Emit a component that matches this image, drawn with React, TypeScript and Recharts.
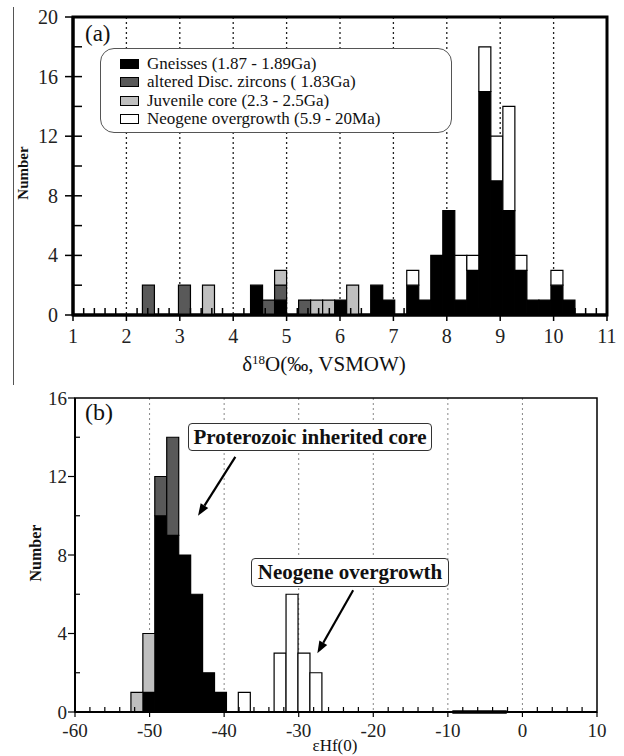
import React from 'react';
import { BarChart, Bar, XAxis, YAxis, CartesianGrid, ReferenceArea, ReferenceLine, Legend } from 'recharts';

const FONT = "'Liberation Serif', 'Times New Roman', Times, serif";

// ---------- Panel (a): delta18O histogram (bin width 0.225) ----------
const binCentersA = [
  2.4125, 2.6375, 2.8625, 3.0875, 3.3125, 3.5375, 3.7625, 3.9875, 4.2125, 4.4375,
  4.6625, 4.8875, 5.1125, 5.3375, 5.5625, 5.7875, 6.0125, 6.2375, 6.4625, 6.6875,
  6.9125, 7.1375, 7.3625, 7.5875, 7.8125, 8.0375, 8.2625, 8.4875, 8.7125, 8.9375,
  9.1625, 9.3875, 9.6125, 9.8375, 10.0625, 10.2875,
];
const gneissA = [0, 0, 0, 0, 0, 0, 0, 0, 0, 2, 0, 1, 0, 0, 0, 0, 1, 0, 0, 2, 1, 0, 2, 1, 4, 7, 1, 3, 15, 9, 7, 3, 1, 1, 2, 1];
const alteredA = [2, 0, 0, 2, 0, 0, 0, 0, 0, 0, 1, 1, 0, 1, 0, 0, 0, 0, 0, 0, 0, 0, 0, 0, 0, 0, 0, 0, 0, 0, 0, 0, 0, 0, 0, 0];
const juvenileA = [0, 0, 0, 0, 0, 2, 0, 0, 0, 0, 0, 1, 0, 0, 1, 1, 0, 2, 0, 0, 0, 0, 0, 0, 0, 0, 0, 0, 0, 0, 0, 0, 0, 0, 0, 0];
const neogeneA = [0, 0, 0, 0, 0, 0, 0, 0, 0, 0, 0, 0, 0, 0, 0, 0, 0, 0, 0, 0, 0, 0, 1, 0, 0, 0, 3, 1, 3, 3, 7, 1, 0, 0, 1, 0];

const seriesNames = [
  'Gneisses (1.87 - 1.89Ga)',
  'altered Disc. zircons ( 1.83Ga)',
  'Juvenile core (2.3 - 2.5Ga)',
  'Neogene overgrowth (5.9 - 20Ma)',
];
const seriesColors = ['#000000', '#595959', '#bfbfbf', '#ffffff'];
const seriesKeys = ['gneiss', 'altered', 'juvenile', 'neogene'];

const xTicksA = Array.from({ length: 51 }, (_, i) => Math.round((1 + i * 0.2) * 10) / 10);
const yTicksA = [0, 2, 4, 6, 8, 10, 12, 14, 16, 18, 20];
const gridA = [2, 3, 4, 5, 6, 7, 8, 9, 10];

// ---------- Panel (b): epsilon Hf histogram (bin width 1.6) ----------
const binCentersB = [-51.7, -50.1, -48.5, -46.9, -45.3, -43.7, -42.1, -40.5, -38.9, -37.3, -35.7, -34.1, -32.5, -30.9, -29.3, -27.7];
const coreB = [0, 1, 10, 9, 8, 6, 2, 1, 0, 0, 0, 0, 0, 0, 0, 0];
const alteredB = [0, 0, 2, 5, 0, 0, 0, 0, 0, 0, 0, 0, 0, 0, 0, 0];
const juvenileB = [1, 3, 0, 0, 0, 0, 0, 0, 0, 0, 0, 0, 0, 0, 0, 0];
const neogeneB = [0, 0, 0, 0, 0, 0, 0, 0, 0, 1, 0, 0, 3, 6, 3, 2];

const xTicksB = Array.from({ length: 36 }, (_, i) => -60 + i * 2);
const yTicksB = [0, 2, 4, 6, 8, 10, 12, 14, 16];
const gridB = [-50, -40, -30, -20, -10, 0];

const dataA = binCentersA.map((x, i) => ({ x, gneiss: gneissA[i], altered: alteredA[i], juvenile: juvenileA[i], neogene: neogeneA[i] }));
const dataB = binCentersB.map((x, i) => ({ x, gneiss: coreB[i], altered: alteredB[i], juvenile: juvenileB[i], neogene: neogeneB[i] }));

const isMajor = (v: number, step: number) => Math.abs(v / step - Math.round(v / step)) < 1e-6;

type TickOpt = { step: number; out: number; inn: number; minorIn: number; fs: number; gap: number; sw: number };

const makeXTick = (o: TickOpt) => (props: any) => {
  const { x, y, payload } = props;
  const v = payload.value;
  const major = isMajor(v, o.step);
  return (
    <g>
      {major ? (
        <line x1={x} x2={x} y1={y - o.inn} y2={y + o.out} stroke="#000" strokeWidth={o.sw} />
      ) : (
        <line x1={x} x2={x} y1={y - o.minorIn} y2={y} stroke="#000" strokeWidth={o.sw} />
      )}
      {major && (
        <text x={x} y={y + o.gap} textAnchor="middle" dominantBaseline="central" fontFamily={FONT} fontSize={o.fs} fill="#222">
          {v}
        </text>
      )}
    </g>
  );
};

const makeYTick = (o: TickOpt) => (props: any) => {
  const { x, y, payload } = props;
  const v = payload.value;
  const major = isMajor(v, o.step);
  return (
    <g>
      {major ? (
        <line x1={x - o.out} x2={x + o.inn} y1={y} y2={y} stroke="#000" strokeWidth={o.sw} />
      ) : (
        <line x1={x} x2={x + o.minorIn} y1={y} y2={y} stroke="#000" strokeWidth={o.sw} />
      )}
      {major && (
        <text x={x - o.out - o.gap} y={y} textAnchor="end" dominantBaseline="central" fontFamily={FONT} fontSize={o.fs} fill="#222">
          {v}
        </text>
      )}
    </g>
  );
};

const Arrow = (p: any) => {
  const { x1, y1, x2, y2 } = p;
  const ang = Math.atan2(y2 - y1, x2 - x1);
  const L = 12;
  const Wd = 4.5;
  const bx = x2 - L * Math.cos(ang);
  const by = y2 - L * Math.sin(ang);
  const pts = `${x2},${y2} ${bx - Wd * Math.sin(ang)},${by + Wd * Math.cos(ang)} ${bx + Wd * Math.sin(ang)},${by - Wd * Math.cos(ang)}`;
  return (
    <g>
      <line x1={x1} y1={y1} x2={bx} y2={by} stroke="#000" strokeWidth={2.2} />
      <polygon points={pts} fill="#000" />
    </g>
  );
};

const LegendBox = () => (
  <div
    style={{
      width: 352,
      height: 85,
      boxSizing: 'border-box',
      border: '1.5px solid #555',
      borderRadius: 14,
      background: '#fff',
      paddingTop: 6,
      paddingLeft: 19,
      fontFamily: FONT,
      fontSize: 17,
      color: '#111',
    }}
  >
    {seriesNames.map((n, i) => (
      <div key={n} style={{ display: 'flex', alignItems: 'center', height: 18.3, lineHeight: '18px', whiteSpace: 'nowrap' }}>
        <span
          style={{
            display: 'inline-block',
            flex: '0 0 auto',
            width: 19,
            height: 10,
            boxSizing: 'border-box',
            background: seriesColors[i],
            border: '1px solid #000',
            marginRight: 8,
          }}
        />
        <span>{n}</span>
      </div>
    ))}
  </div>
);

const renderBars = () =>
  seriesKeys.map((k, i) => (
    <Bar
      key={k}
      dataKey={k}
      stackId="s"
      name={seriesNames[i]}
      fill={seriesColors[i]}
      stroke="#000"
      strokeWidth={1.2}
      isAnimationActive={false}
    />
  ));

const boxStyle: React.CSSProperties = {
  position: 'absolute',
  boxSizing: 'border-box',
  border: '1.3px solid #333',
  borderRadius: 4,
  background: '#fff',
  fontSize: 21,
  fontWeight: 'bold',
  lineHeight: 1,
  display: 'flex',
  alignItems: 'center',
  justifyContent: 'center',
  whiteSpace: 'nowrap',
};

export default function App() {
  return (
    <div style={{ position: 'absolute', left: 0, top: 0, width: 624, height: 756, background: '#fff', overflow: 'hidden', fontFamily: FONT, color: '#111' }}>
      <div style={{ position: 'absolute', left: 13, top: 7, width: 1, height: 378, background: '#555' }} />

      {/* Panel (a) */}
      <div style={{ position: 'absolute', left: 0, top: 0 }}>
        <BarChart width={624} height={370} data={dataA} margin={{ top: 17, right: 17, left: 0, bottom: 0 }} barCategoryGap={0} barGap={0}>
          <CartesianGrid horizontal={false} verticalValues={gridA} stroke="#222" strokeWidth={1.3} strokeDasharray="2 3" />
          <XAxis
            dataKey="x"
            type="number"
            domain={[1, 11]}
            ticks={xTicksA}
            interval={0}
            height={55}
            tickSize={0}
            tickMargin={0}
            tickLine={false}
            axisLine={{ stroke: '#000', strokeWidth: 3 }}
            tick={makeXTick({ step: 1, out: 6, inn: 0, minorIn: 7, fs: 20, gap: 21, sw: 1.5 })}
          />
          <YAxis
            type="number"
            domain={[0, 20]}
            ticks={yTicksA}
            interval={0}
            width={73}
            tickSize={0}
            tickMargin={0}
            tickLine={false}
            axisLine={{ stroke: '#000', strokeWidth: 3 }}
            tick={makeYTick({ step: 4, out: 8, inn: 9, minorIn: 9, fs: 20, gap: 7, sw: 1.5 })}
          />
          {renderBars()}
          <ReferenceArea x1={1} x2={11} y1={0} y2={20} fill="none" stroke="#000" strokeWidth={3} />
          <Legend
            layout="horizontal"
            verticalAlign="middle"
            align="center"
            wrapperStyle={{ position: 'absolute', left: 100, top: 48, width: 352, height: 85 }}
            content={() => <LegendBox />}
          />
        </BarChart>
      </div>
      <div style={{ position: 'absolute', left: 85, top: 22, fontSize: 23, lineHeight: 1 }}>(a)</div>
      <div
        style={{
          position: 'absolute',
          left: 23,
          top: 173,
          transform: 'translate(-50%, -50%) rotate(-90deg)',
          fontSize: 15,
          fontWeight: 'bold',
          lineHeight: 1,
          whiteSpace: 'nowrap',
        }}
      >
        Number
      </div>
      <div
        style={{ position: 'absolute', left: 324, top: 364, transform: 'translate(-50%, -50%)', fontSize: 21, lineHeight: 1, whiteSpace: 'nowrap' }}
      >
        δ<sup style={{ fontSize: 13, verticalAlign: 7, lineHeight: 0 }}>18</sup>O(‰, VSMOW)
      </div>

      {/* Panel (b) */}
      <div style={{ position: 'absolute', left: 0, top: 370 }}>
        <BarChart width={624} height={386} data={dataB} margin={{ top: 28, right: 27, left: 0, bottom: 0 }} barCategoryGap={0} barGap={0}>
          <CartesianGrid horizontal={false} verticalValues={gridB} stroke="#888" strokeWidth={1} strokeDasharray="2 3" />
          <XAxis
            dataKey="x"
            type="number"
            domain={[-60, 10]}
            ticks={xTicksB}
            interval={0}
            height={44}
            tickSize={0}
            tickMargin={0}
            tickLine={false}
            axisLine={{ stroke: '#000', strokeWidth: 2 }}
            tick={makeXTick({ step: 10, out: 5, inn: 0, minorIn: 5, fs: 19, gap: 18, sw: 1.2 })}
          />
          <YAxis
            type="number"
            domain={[0, 16]}
            ticks={yTicksB}
            interval={0}
            width={75}
            tickSize={0}
            tickMargin={0}
            tickLine={false}
            axisLine={{ stroke: '#000', strokeWidth: 2 }}
            tick={makeYTick({ step: 4, out: 7, inn: 0, minorIn: 5, fs: 19, gap: 1, sw: 1.2 })}
          />
          {renderBars()}
          <ReferenceArea x1={-60} x2={10} y1={0} y2={16} fill="none" stroke="#000" strokeWidth={1.5} />
          <ReferenceLine segment={[{ x: -9.4, y: 0 }, { x: -2.1, y: 0 }]} stroke="#000" strokeWidth={3.5} />
          <ReferenceLine segment={[{ x: -38.5, y: 13 }, { x: -43.5, y: 10 }]} shape={Arrow} />
          <ReferenceLine segment={[{ x: -22.7, y: 6.2 }, { x: -27.5, y: 3.0 }]} shape={Arrow} />
        </BarChart>
      </div>
      <div style={{ position: 'absolute', left: 85, top: 400, fontSize: 24, lineHeight: 1 }}>(b)</div>
      <div
        style={{
          position: 'absolute',
          left: 36,
          top: 553,
          transform: 'translate(-50%, -50%) rotate(-90deg)',
          fontSize: 16,
          fontWeight: 'bold',
          lineHeight: 1,
          whiteSpace: 'nowrap',
        }}
      >
        Number
      </div>
      <div style={{ ...boxStyle, left: 188, top: 423, width: 244, height: 28 }}>Proterozoic inherited core</div>
      <div style={{ ...boxStyle, left: 251, top: 558, width: 198, height: 29 }}>Neogene overgrowth</div>
      <div style={{ position: 'absolute', left: 335, top: 745, transform: 'translate(-50%, -50%)', fontSize: 17, lineHeight: 1, whiteSpace: 'nowrap' }}>
        εHf(0)
      </div>
    </div>
  );
}
